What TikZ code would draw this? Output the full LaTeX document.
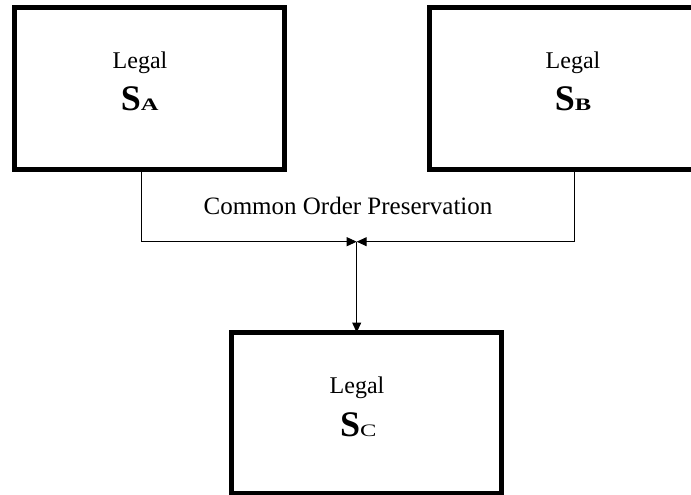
\documentclass[tikz,border=0pt]{standalone}
\usepackage{fontspec}
\usepackage{graphicx}
\setmainfont{Liberation Serif}
\usetikzlibrary{arrows.meta}

\tikzset{
  statebox/.style={draw=black, line width=5pt, fill=white, inner sep=0pt, outer sep=0pt},
  legaltext/.style={anchor=base, inner sep=0pt, font=\fontsize{24}{24}\selectfont},
  captext/.style={anchor=base, inner sep=0pt, font=\fontsize{25}{25}\selectfont},
  symtext/.style={anchor=base, inner sep=0pt},
  conn/.style={draw=black, line width=1pt},
  tip/.style={-{Triangle[length=10pt,width=9pt]}}
}
% Big bold S followed by a widened smaller index letter
\newcommand{\statesym}[2]{{\fontsize{36}{36}\selectfont\bfseries S}{\fontsize{17.5}{17.5}\selectfont #1\scalebox{1.4}[1]{#2}}}

\begin{document}
\begin{tikzpicture}[x=1pt, y=-1pt]
  \useasboundingbox (0,0) rectangle (691,495);

  % three state boxes
  \node[statebox, minimum width=270pt, minimum height=162pt] (boxA) at (149.5,88.5) {};
  \node[statebox, minimum width=287pt, minimum height=162pt] (boxB) at (573,88.5) {};
  \node[statebox, minimum width=270.5pt, minimum height=161pt] (boxC) at (366.25,413) {};

  % box contents
  \node[legaltext] (legalA) at (140,68.3) {Legal};
  \node[symtext] (symA) at (139.7,110.7) {\statesym{\bfseries}{A}};
  \node[legaltext] (legalB) at (573,68.3) {Legal};
  \node[symtext] (symB) at (573,110.7) {\statesym{\bfseries}{B}};
  \node[legaltext] (legalC) at (357,393.3) {Legal};
  \node[symtext] (symC) at (358.3,436.7) {\statesym{}{C}};

  % junction points of the connectors
  \coordinate (ja) at (141,241.7);
  \coordinate (jb) at (574,241.7);
  \coordinate (m) at (356.7,241.7);

  \node[captext] (cop) at (348,214.3) {Common Order Preservation};

  \draw[conn, tip] (boxA.south -| ja) -- (ja) -- (m);
  \draw[conn, tip] (boxB.south -| jb) -- (jb) -- (m);
  \draw[conn, tip] (m) -- (boxC.north -| m);
\end{tikzpicture}
\end{document}
